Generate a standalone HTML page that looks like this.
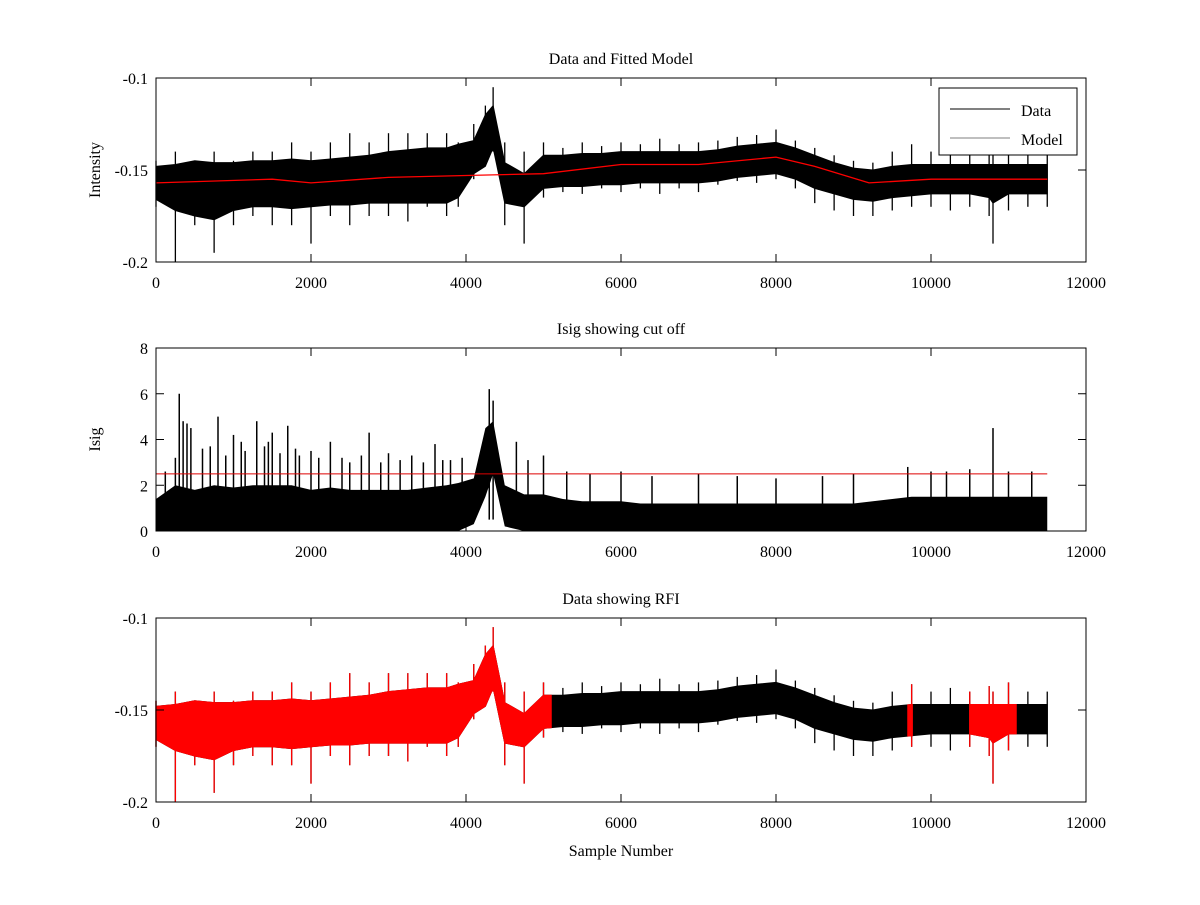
<!DOCTYPE html>
<html><head><meta charset="utf-8"><style>
body{margin:0;background:#fff;}
svg text{font-family:"Liberation Serif",serif;fill:#000;}
</style></head><body>
<svg id="fig" width="1200" height="900" xmlns="http://www.w3.org/2000/svg"></svg>
<script>
const samples=[0,250,500,750,1000,1250,1500,1750,2000,2250,2500,2750,3000,3250,3500,3750,3900,4100,4250,4350,4500,4750,5000,5250,5500,5750,6000,6250,6500,6750,7000,7250,7500,7750,8000,8250,8500,8750,9000,9250,9500,9750,10000,10250,10500,10750,10800,11000,11250,11500];
const dataMax=[-0.145,-0.14,-0.145,-0.14,-0.145,-0.14,-0.14,-0.135,-0.14,-0.135,-0.13,-0.135,-0.13,-0.13,-0.13,-0.13,-0.135,-0.125,-0.115,-0.105,-0.135,-0.14,-0.135,-0.138,-0.135,-0.137,-0.135,-0.136,-0.133,-0.136,-0.135,-0.134,-0.132,-0.131,-0.128,-0.134,-0.138,-0.142,-0.145,-0.146,-0.14,-0.136,-0.14,-0.138,-0.14,-0.137,-0.14,-0.135,-0.14,-0.14];
const dataMin=[-0.17,-0.2,-0.18,-0.195,-0.18,-0.175,-0.18,-0.18,-0.19,-0.175,-0.18,-0.175,-0.175,-0.178,-0.17,-0.175,-0.17,-0.155,-0.145,-0.14,-0.18,-0.19,-0.165,-0.162,-0.163,-0.16,-0.162,-0.16,-0.163,-0.16,-0.162,-0.158,-0.156,-0.157,-0.155,-0.16,-0.168,-0.172,-0.175,-0.175,-0.172,-0.17,-0.17,-0.172,-0.17,-0.175,-0.19,-0.172,-0.17,-0.17];
const coreUpper=[-0.148,-0.147,-0.145,-0.146,-0.146,-0.145,-0.145,-0.144,-0.145,-0.144,-0.143,-0.142,-0.14,-0.139,-0.138,-0.138,-0.136,-0.134,-0.12,-0.115,-0.146,-0.152,-0.142,-0.142,-0.141,-0.141,-0.14,-0.14,-0.14,-0.14,-0.14,-0.139,-0.137,-0.136,-0.135,-0.138,-0.142,-0.146,-0.149,-0.15,-0.148,-0.147,-0.147,-0.147,-0.147,-0.147,-0.147,-0.147,-0.147,-0.147];
const coreLower=[-0.166,-0.172,-0.175,-0.177,-0.172,-0.17,-0.17,-0.171,-0.17,-0.169,-0.169,-0.168,-0.168,-0.168,-0.168,-0.168,-0.165,-0.152,-0.148,-0.138,-0.168,-0.17,-0.16,-0.159,-0.159,-0.158,-0.158,-0.157,-0.157,-0.157,-0.157,-0.156,-0.154,-0.153,-0.152,-0.155,-0.16,-0.163,-0.166,-0.167,-0.165,-0.164,-0.163,-0.163,-0.163,-0.165,-0.168,-0.163,-0.163,-0.163];
const modelX=[0,1500,2000,3000,4000,5000,6000,7000,8000,8500,9200,10000,11500];
const modelY=[-0.157,-0.155,-0.157,-0.154,-0.153,-0.152,-0.147,-0.147,-0.143,-0.148,-0.157,-0.155,-0.155];
const isigDense=[1.4,2.0,1.8,2.0,1.9,2.0,2.0,2.0,1.8,1.9,1.8,1.8,1.8,1.8,1.9,2.0,2.1,2.3,4.5,4.8,2.0,1.6,1.6,1.4,1.3,1.3,1.3,1.2,1.2,1.2,1.2,1.2,1.2,1.2,1.2,1.2,1.2,1.2,1.2,1.3,1.4,1.5,1.5,1.5,1.5,1.5,1.5,1.5,1.5,1.5];
const isigGap=[0,0,0,0,0,0,0,0,0,0,0,0,0,0,0,0,0,0.3,1.5,2.5,0.2,0,0,0,0,0,0,0,0,0,0,0,0,0,0,0,0,0,0,0,0,0,0,0,0,0,0,0,0,0];
const spikeX=[120,250,300,350,400,450,600,700,800,900,1000,1100,1150,1300,1400,1450,1500,1600,1700,1800,1850,2000,2100,2250,2400,2500,2650,2750,2900,3000,3150,3300,3450,3600,3700,3800,3950,4300,4350,4650,4800,5000,5300,5600,6000,6400,7000,7500,8000,8600,9000,9700,10000,10200,10500,10800,11000,11300];
const spikeY=[2.6,3.2,6,4.8,4.7,4.5,3.6,3.7,5,3.3,4.2,3.9,3.5,4.8,3.7,3.9,4.3,3.4,4.6,3.6,3.3,3.5,3.2,3.9,3.2,3.0,3.3,4.3,3.0,3.4,3.1,3.3,3.0,3.8,3.1,3.1,3.2,6.2,5.7,3.9,3.1,3.3,2.6,2.5,2.6,2.4,2.5,2.4,2.3,2.4,2.5,2.8,2.6,2.6,2.7,4.5,2.6,2.6];
const cutoff=2.5;
const rfiRanges=[[0,5100],[9700,9760],[10500,11100]];

const svg=document.getElementById('fig');
const NS='http://www.w3.org/2000/svg';
function mk(tag,attrs,parent){const e=document.createElementNS(NS,tag);for(const k in attrs)e.setAttribute(k,attrs[k]);(parent||svg).appendChild(e);return e;}
const X0=156,X1=1086;
const sx=v=>X0+(v/12000)*(X1-X0);
function interp(arr,s){for(let i=0;i<samples.length-1;i++)if(s>=samples[i]&&s<=samples[i+1]){const f=(s-samples[i])/(samples[i+1]-samples[i]);return arr[i]+f*(arr[i+1]-arr[i]);}return arr[arr.length-1];}
function axes(top,bot,ymin,ymax,yticks,ylabels,title,ylabel,name){
  const sy=v=>bot-(v-ymin)/(ymax-ymin)*(bot-top);
  const g=mk('g',{});
  
  
  return {sy,g,top,bot,yticks,ylabels,title,ylabel,name};
}
function frame(a){
  const g=a.g;
  const r=mk('rect',{x:X0,y:a.top,width:X1-X0,height:a.bot-a.top,fill:'none',stroke:'#000','stroke-width':1},g);
  
  for(let i=0;i<=6;i++){const v=i*2000,x=sx(v);
    mk('line',{x1:x,x2:x,y1:a.bot,y2:a.bot-8,stroke:'#000'},g);
    mk('line',{x1:x,x2:x,y1:a.top,y2:a.top+8,stroke:'#000'},g);
    const t=mk('text',{x:x,y:a.bot+26,'text-anchor':'middle','font-size':16},g);t.textContent=String(v);
    }
  a.yticks.forEach((v,i)=>{const y=a.sy(v);
    mk('line',{x1:X0,x2:X0+8,y1:y,y2:y,stroke:'#000'},g);
    mk('line',{x1:X1,x2:X1-8,y1:y,y2:y,stroke:'#000'},g);
    const t=mk('text',{x:X0-8,y:y+6,'text-anchor':'end','font-size':16},g);t.textContent=a.ylabels[i];
    });
  const t=mk('text',{x:(X0+X1)/2,y:a.top-14,'text-anchor':'middle','font-size':16},g);t.textContent=a.title;
  
  const yl=mk('text',{x:0,y:0,'text-anchor':'middle','font-size':16,transform:`translate(${X0-56},${(a.top+a.bot)/2}) rotate(-90)`},g);yl.textContent=a.ylabel;
  
}
function band(a,lo,hi,color,name){
  const xs=[lo].concat(samples.filter(s=>s>lo&&s<hi)).concat([hi]);
  const up=xs.map(s=>[sx(s),a.sy(interp(coreUpper,s))]);
  const dn=xs.map(s=>[sx(s),a.sy(interp(coreLower,s))]).reverse();
  const p=mk('polygon',{points:up.concat(dn).map(q=>q.join(',')).join(' '),fill:color,stroke:color,'stroke-width':1},a.g);
  
  for(let i=0;i<samples.length;i++){const s=samples[i];if(s<lo||s>hi)continue;
    const l=mk('line',{x1:sx(s),x2:sx(s),y1:a.sy(dataMax[i]),y2:a.sy(dataMin[i]),stroke:color,'stroke-width':1.3},a.g);
    }
}
// top
const A=axes(78,262,-0.2,-0.1,[-0.2,-0.15,-0.1],['-0.2','-0.15','-0.1'],'Data and Fitted Model','Intensity','top-panel');
band(A,0,11500,'#000','data-series');
const mp=mk('polyline',{points:modelX.map((v,i)=>sx(v)+','+A.sy(modelY[i])).join(' '),fill:'none',stroke:'#f00','stroke-width':1.3},A.g);

frame(A);
const lg=mk('g',{});
mk('rect',{x:939,y:88,width:138,height:67,fill:'#fff',stroke:'#000'},lg);
mk('line',{x1:950,x2:1010,y1:109,y2:109,stroke:'#000'},lg);
mk('line',{x1:950,x2:1010,y1:138,y2:138,stroke:'#000','stroke-width':0.6},lg);
let lt=mk('text',{x:1021,y:116,'font-size':16},lg);lt.textContent='Data';
lt=mk('text',{x:1021,y:145,'font-size':16},lg);lt.textContent='Model';
// middle
const B=axes(348,531,0,8,[0,2,4,6,8],['0','2','4','6','8'],'Isig showing cut off','Isig','middle-panel');
(function(){
  const up=samples.map((s,i)=>[sx(s),B.sy(isigDense[i])]);
  const dn=samples.map((s,i)=>[sx(s),B.sy(isigGap[i])]).reverse();
  const p=mk('polygon',{points:up.concat(dn).map(q=>q.join(',')).join(' '),fill:'#000'},B.g);
  
  spikeX.forEach((s,i)=>{const l=mk('line',{x1:sx(s),x2:sx(s),y1:B.sy(0.5),y2:B.sy(spikeY[i]),stroke:'#000','stroke-width':1.5},B.g);
    });
  const c=mk('line',{x1:sx(0),x2:sx(11500),y1:B.sy(cutoff),y2:B.sy(cutoff),stroke:'#d00','stroke-width':1},B.g);
  
})();
frame(B);
// bottom
const C=axes(618,802,-0.2,-0.1,[-0.2,-0.15,-0.1],['-0.2','-0.15','-0.1'],'Data showing RFI','','bottom-panel');
band(C,0,11500,'#000','data-series-bottom');
rfiRanges.forEach(r=>band(C,r[0],r[1],'#f00','rfi-points'));
frame(C);
const xl=mk('text',{x:(X0+X1)/2,y:856,'text-anchor':'middle','font-size':16});xl.textContent='Sample Number';

</script>
</body></html>
